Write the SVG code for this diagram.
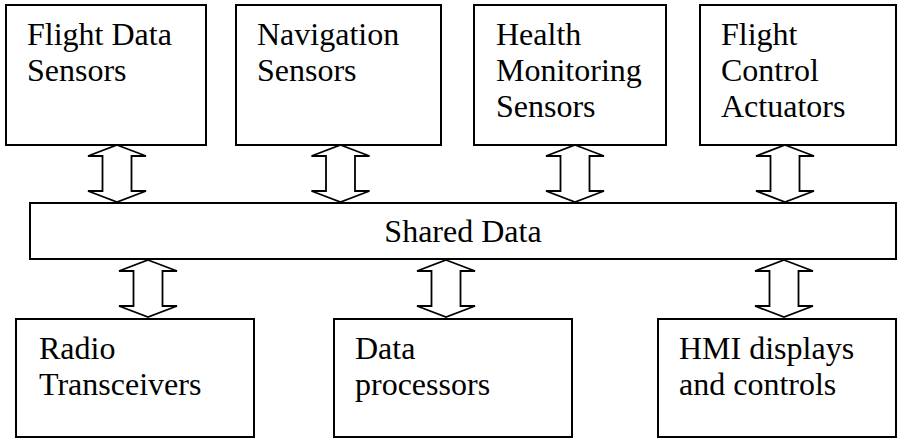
<svg xmlns="http://www.w3.org/2000/svg" width="898" height="439" viewBox="0 0 898 439">
<style>
.box{fill:#fff;stroke:#000;stroke-width:2}
.arr{fill:#fff;stroke:#000;stroke-width:1.8;stroke-linejoin:miter}
.t{font-family:'Liberation Serif','Times New Roman','DejaVu Serif',serif;font-size:32px;fill:#000}
</style>
<defs>
<path id="dbl" d="M0,0 L29,11 L14.5,11 L14.5,46 L29,46 L0,57 L-29,46 L-14.5,46 L-14.5,11 L-29,11 Z"/>
</defs>
<rect width="898" height="439" fill="#fff"/>
<g id="connectors">
<use href="#dbl" class="arr" x="117" y="145"/>
<use href="#dbl" class="arr" x="340.5" y="145"/>
<use href="#dbl" class="arr" x="575" y="145"/>
<use href="#dbl" class="arr" x="785" y="145"/>
<use href="#dbl" class="arr" x="148" y="260"/>
<use href="#dbl" class="arr" x="446" y="260"/>
<use href="#dbl" class="arr" x="784" y="260"/>
</g>
<g id="flight-data-sensors">
<rect class="box" x="6" y="5" width="200" height="140"/>
<text class="t" x="27" y="45">Flight Data</text>
<text class="t" x="27" y="81">Sensors</text>
</g>
<g id="navigation-sensors">
<rect class="box" x="236" y="5" width="205" height="140"/>
<text class="t" x="257" y="45">Navigation</text>
<text class="t" x="257" y="81">Sensors</text>
</g>
<g id="health-monitoring-sensors">
<rect class="box" x="474" y="5" width="192" height="140"/>
<text class="t" x="496" y="45">Health</text>
<text class="t" x="496" y="81">Monitoring</text>
<text class="t" x="496" y="117">Sensors</text>
</g>
<g id="flight-control-actuators">
<rect class="box" x="700" y="5" width="196" height="140"/>
<text class="t" x="721" y="45">Flight</text>
<text class="t" x="721" y="81">Control</text>
<text class="t" x="721" y="117">Actuators</text>
</g>
<g id="shared-data">
<rect class="box" x="30" y="203" width="866" height="56"/>
<text class="t" x="463" y="242" text-anchor="middle">Shared Data</text>
</g>
<g id="radio-transceivers">
<rect class="box" x="16" y="319" width="238" height="118"/>
<text class="t" x="39" y="359">Radio</text>
<text class="t" x="39" y="395">Transceivers</text>
</g>
<g id="data-processors">
<rect class="box" x="334" y="319" width="238" height="118"/>
<text class="t" x="355" y="359">Data</text>
<text class="t" x="355" y="395">processors</text>
</g>
<g id="hmi-displays">
<rect class="box" x="658" y="319" width="238" height="118"/>
<text class="t" x="679" y="359">HMI displays</text>
<text class="t" x="679" y="395">and controls</text>
</g>
</svg>
